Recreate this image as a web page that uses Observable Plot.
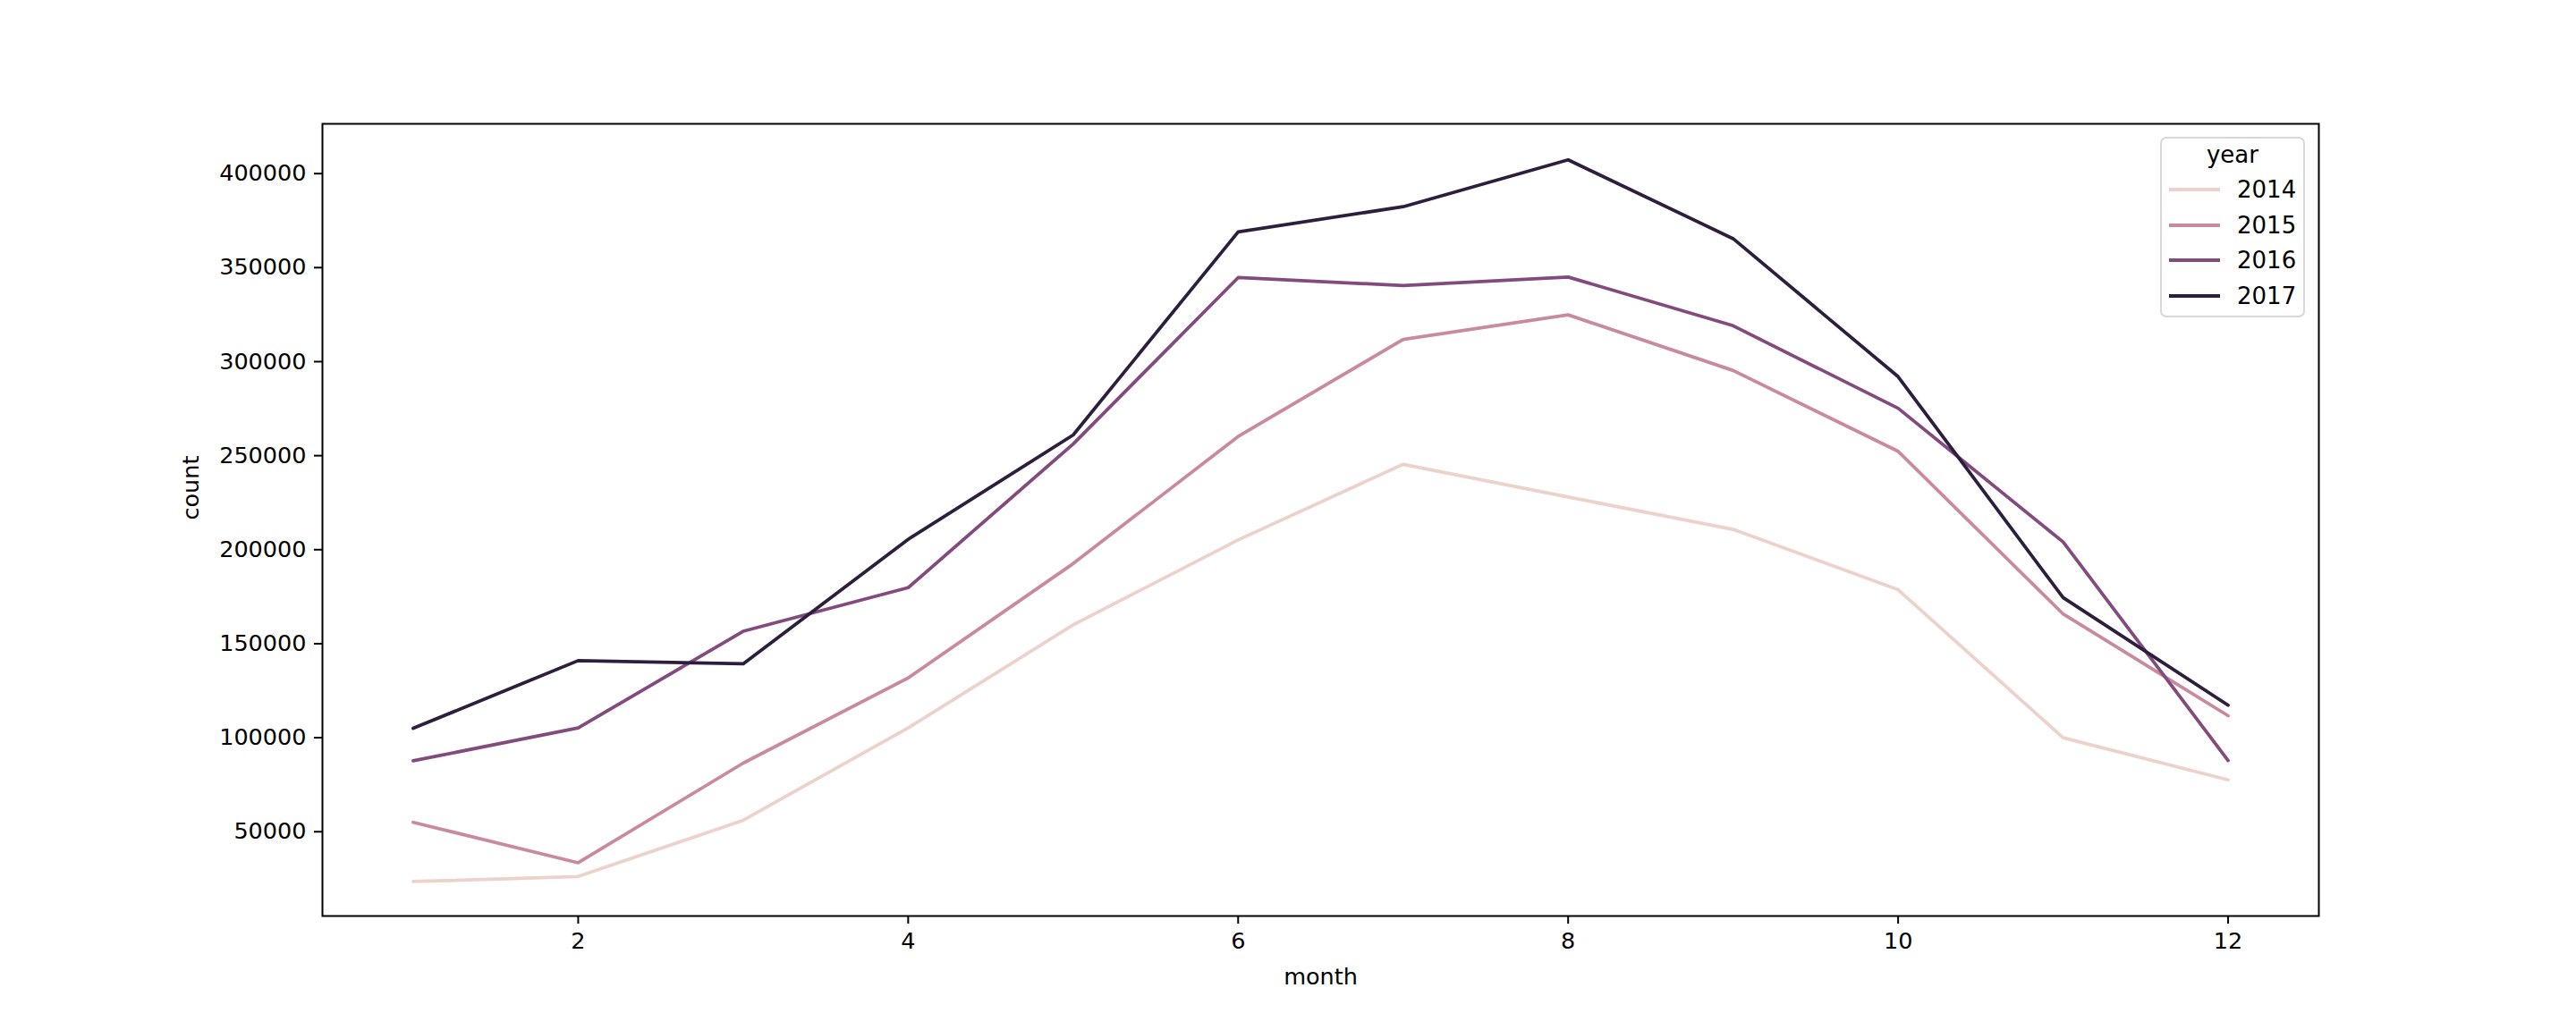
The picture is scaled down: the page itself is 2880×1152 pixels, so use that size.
<!DOCTYPE html>
<html>
<head>
<meta charset="utf-8">
<script src="https://cdn.jsdelivr.net/npm/d3@7"></script>
<script src="https://cdn.jsdelivr.net/npm/@observablehq/plot@0.6"></script>
<style>
  html, body { margin: 0; padding: 0; background: #fff; }
  #wrap { position: relative; width: 2880px; height: 1152px; font-family: "DejaVu Sans", sans-serif; }
  #legend { position: absolute; left: 2415px; top: 153px; width: 162px; height: 202px;
    border: 2px solid #d8d8d8; border-radius: 7px; background: rgba(255,255,255,0.8); box-sizing: border-box; }
  #legend .title { position: absolute; left: 0; width: 100%; top: 3px; text-align: center; font-size: 26px; color: #000; }
  #legend .row { position: absolute; left: 8px; height: 30px; display: flex; align-items: center; font-size: 26px; color: #000; }
  #legend .sw { width: 57px; height: 4px; margin-right: 19px; }
</style>
</head>
<body>
<div id="wrap"></div>
<script>
const months = [1, 2, 3, 4, 5, 6, 7, 8, 9, 10, 11, 12];
const years = ["2014", "2015", "2016", "2017"];
const y2014 = [23500, 26200, 56100, 105200, 160000, 205200, 245400, 228000, 210800, 178700, 100000, 77600];
const y2015 = [55000, 33500, 86500, 131800, 192600, 260200, 311800, 324900, 295300, 252300, 165800, 111700];
const y2016 = [87700, 105200, 156600, 179800, 256200, 344700, 340500, 345000, 319100, 275200, 204100, 87900];
const y2017 = [105000, 141000, 139300, 205500, 261000, 369000, 382400, 407300, 365400, 292000, 174500, 117300];
const colors = ["#edd1cb", "#c98aa0", "#834a7e", "#2d1e3e"];
const xTicks = [2, 4, 6, 8, 10, 12];
const yTicks = [50000, 100000, 150000, 200000, 250000, 300000, 350000, 400000];

const series = [y2014, y2015, y2016, y2017];
const data = [];
years.forEach((yr, i) => months.forEach((m, j) => data.push({ year: yr, month: m, count: series[i][j] })));

const fs = 25.5;
const chart = Plot.plot({
  width: 2880,
  height: 1152,
  marginLeft: 360,
  marginRight: 288,
  marginTop: 138,
  marginBottom: 128,
  style: { fontFamily: "DejaVu Sans, sans-serif", fontSize: fs + "px", color: "#000", background: "#fff" },
  x: { domain: [0.45, 12.55] },
  y: { domain: [5184, 426470] },
  color: { domain: years, range: colors },
  marks: [
    Plot.line(data, { x: "month", y: "count", z: "year", stroke: "year", strokeWidth: 3.75 }),
    Plot.frame({ stroke: "#000", strokeWidth: 2 }),
    Plot.axisX({ ticks: xTicks, tickSize: 9, tickPadding: 9, fontSize: fs, label: null, strokeWidth: 2 }),
    Plot.axisY({ ticks: yTicks, tickSize: 9, tickPadding: 9, fontSize: fs, label: null, tickFormat: d => String(d), strokeWidth: 2 }),
    Plot.text(["month"], { frameAnchor: "bottom", dy: 68, fontSize: fs, lineAnchor: "middle" }),
    Plot.text(["count"], { frameAnchor: "left", dx: -147, rotate: -90, fontSize: fs, lineAnchor: "middle" })
  ]
});
const wrap = document.getElementById("wrap");
wrap.appendChild(chart);

const legend = document.createElement("div");
legend.id = "legend";
const t = document.createElement("div");
t.className = "title";
t.textContent = "year";
legend.appendChild(t);
years.forEach((yr, i) => {
  const row = document.createElement("div");
  row.className = "row";
  row.style.top = (42 + i * 39.5) + "px";
  const sw = document.createElement("div");
  sw.className = "sw";
  sw.style.background = colors[i];
  const lab = document.createElement("span");
  lab.textContent = yr;
  row.appendChild(sw);
  row.appendChild(lab);
  legend.appendChild(row);
});
wrap.appendChild(legend);
</script>
</body>
</html>
